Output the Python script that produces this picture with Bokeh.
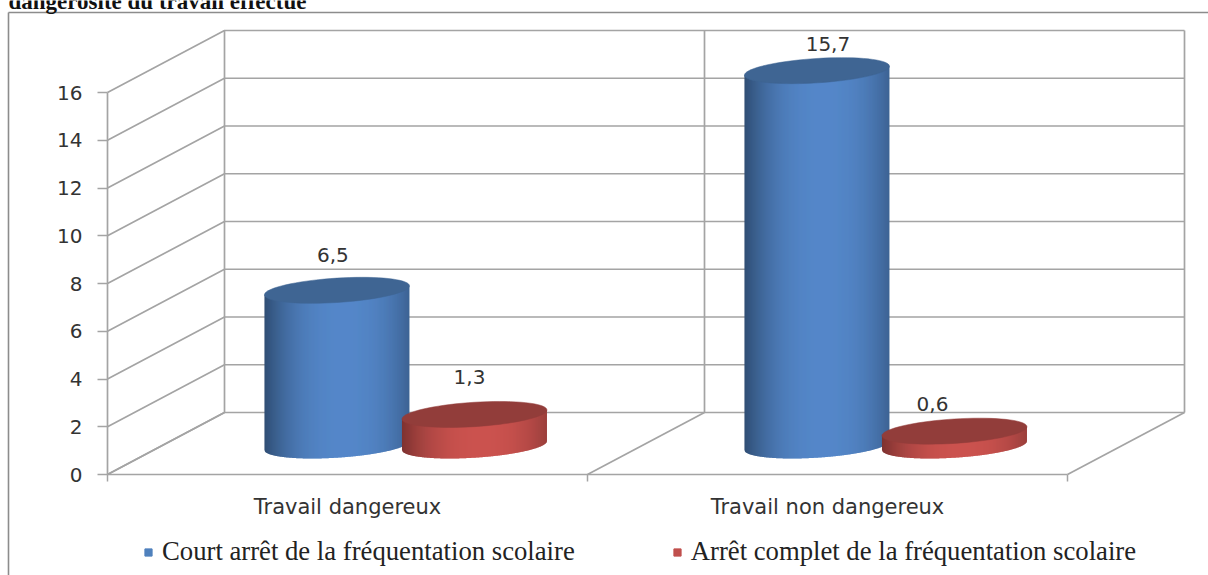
import math
from bokeh.plotting import figure
from bokeh.models import (Range1d, LinearAxis, FixedTicker, Label, Legend, LegendItem,
                          ColumnDataSource)
from bokeh.embed import file_html
from bokeh.resources import INLINE

# ---- data ----
categories = ["Travail dangereux", "Travail non dangereux"]
series_names = ["Court arrêt de la fréquentation scolaire",
                "Arrêt complet de la fréquentation scolaire"]
court_arret = [6.5, 15.7]
arret_complet = [1.3, 0.6]
value_ticks = [0, 2, 4, 6, 8, 10, 12, 14, 16]
title_text = "dangerosité du travail effectué"

# ---- styles ----
W, H = 1208, 575
PX_X = 480.0      # pixels per category
PX_Y = 23.875     # pixels per value unit
LEFT, BASE = 107, 474   # page position of the origin of the front plane
DEPTH_X, DEPTH_Y = 117, 62
GRID = "#a4a4a4"
TEXT = "#333333"
BLUE_SH = ((47, 77, 115), (84, 135, 201))   # edge, centre
RED_SH = ((125, 50, 48), (203, 83, 79))
BLUE_TOP, RED_TOP = "#3f6593", "#923d3a"
BLUE_KEY, RED_KEY = "#4f81bd", "#c0504d"

p = figure(width=W, height=H, output_backend="svg", toolbar_location=None,
           x_axis_type=None, y_axis_type=None,
           x_range=Range1d(-LEFT / PX_X, (W - LEFT) / PX_X),
           y_range=Range1d((BASE - H) / PX_Y, BASE / PX_Y),
           min_border=0, min_border_left=0, min_border_right=0,
           min_border_top=0, min_border_bottom=0,
           outline_line_color=None, background_fill_color="white",
           margin=(0, 0, 0, 0))
p.xgrid.visible = False
p.ygrid.visible = False

dx = DEPTH_X / PX_X
dy = DEPTH_Y / PX_Y
vmax = value_ticks[-1]
ncat = len(categories)

# outer frame of the chart
xs_f = [[(8 - LEFT) / PX_X] * 2, [(8 - LEFT) / PX_X, (W - LEFT) / PX_X]]
ys_f = [[(BASE - H) / PX_Y, (BASE - 12) / PX_Y], [(BASE - 12) / PX_Y] * 2]
p.multi_line(xs_f, ys_f, line_color="#8c8c8c", line_width=1.6)

# walls, floor
xs, ys = [], []
for v in value_ticks:
    xs.append([0, dx, ncat + dx]); ys.append([v, v + dy, v + dy])
for c in range(ncat + 1):
    xs.append([c, c + dx]); ys.append([0, dy])
    xs.append([c + dx, c + dx]); ys.append([dy, vmax + dy])
p.multi_line(xs, ys, line_color=GRID, line_width=1.7)

# axes
yaxis = LinearAxis(ticker=FixedTicker(ticks=value_ticks), fixed_location=0,
                   bounds=(0, vmax), axis_line_color=GRID, axis_line_width=1.7,
                   major_tick_line_color=GRID, major_tick_line_width=1.5,
                   major_tick_in=0, major_tick_out=10, minor_tick_line_color=None,
                   major_label_text_font="DejaVu Sans", major_label_text_font_size="20px",
                   major_label_text_color=TEXT, major_label_standoff=15)
p.add_layout(yaxis, "left")
xaxis = LinearAxis(ticker=FixedTicker(ticks=[c + 0.5 for c in range(ncat)],
                                      minor_ticks=list(range(ncat + 1))),
                   fixed_location=0, bounds=(0, ncat),
                   major_label_overrides={c + 0.5: n for c, n in enumerate(categories)},
                   axis_line_color=GRID, axis_line_width=1.7,
                   major_tick_line_color=None, minor_tick_line_color=GRID,
                   minor_tick_line_width=1.5, minor_tick_in=0, minor_tick_out=7,
                   major_label_text_font="DejaVu Sans", major_label_text_font_size="21px",
                   major_label_text_color=TEXT, major_label_standoff=13)
p.add_layout(xaxis, "below")

# cylinders
CX = [0.478, 0.7645]      # centre within a category per series
R = 72.5                  # half width, px
B = 12.2                  # half minor axis, px
SHEAR = 0.062             # right side rises
FLOOR = 29 / PX_Y         # base plane above the front edge
STRIP = 1.0


def lerp(a, b, t):
    return tuple(int(round(a[i] + (b[i] - a[i]) * t)) for i in range(3))


def cylinder(xc, v, shade, top):
    sx, sy, cols = [], [], []
    n = int(2 * R / STRIP)
    for i in range(n):
        a = -R + i * STRIP
        b = min(a + STRIP + 0.6, R)
        px = [a + (b - a) * k / 3 for k in range(4)]
        bottom = [FLOOR + (SHEAR * q - B * math.sqrt(max(0, 1 - (q / R) ** 2))) / PX_Y
                  for q in px]
        tp = [FLOOR + v + SHEAR * q / PX_Y for q in (b, a)]
        sx.append([xc + q / PX_X for q in px] + [xc + b / PX_X, xc + a / PX_X])
        sy.append(bottom + tp)
        u = (a + b) / 2 / R
        # brightest slightly right of the centre, dark towards both edges
        t = 1 - min(1, abs(u - 0.1) / 1.1) ** 2.4
        cols.append("#%02x%02x%02x" % lerp(shade[0], shade[1], t))
    p.patches(sx, sy, fill_color=cols, line_color=None)
    m = 72
    ex = [xc + R * math.cos(2 * math.pi * k / m) / PX_X for k in range(m)]
    ey = [FLOOR + v + (SHEAR * R * math.cos(2 * math.pi * k / m)
                       + B * math.sin(2 * math.pi * k / m)) / PX_Y for k in range(m)]
    p.patch(ex, ey, fill_color=top, line_color=top, line_width=0.5)


for c in range(ncat):
    cylinder(c + CX[0], court_arret[c], BLUE_SH, BLUE_TOP)
    cylinder(c + CX[1], arret_complet[c], RED_SH, RED_TOP)

# value labels
fmt = lambda v: ("%.1f" % v).replace(".", ",")
lab_x, lab_y, lab_t = [], [], []
for c in range(ncat):
    lab_x += [c + CX[0], c + CX[1]]
    lab_y += [FLOOR + court_arret[c], FLOOR + arret_complet[c]]
    lab_t += [fmt(court_arret[c]), fmt(arret_complet[c])]
src = ColumnDataSource(dict(x=lab_x, y=lab_y, t=lab_t,
                            ox=[-4, -5, 11, -22], oy=[-35, -37, -27, -27]))
p.text("x", "y", text="t", source=src, x_offset="ox", y_offset="oy",
       text_align="center", text_baseline="middle", text_color=TEXT,
       text_font={"value": "DejaVu Sans"}, text_font_size={"value": "20px"})

# legend
r1 = p.scatter([float("nan")], [float("nan")], marker="square", size=11,
               color=BLUE_KEY)
r2 = p.scatter([float("nan")], [float("nan")], marker="square", size=11,
               color=RED_KEY)
legend = Legend(items=[LegendItem(label=series_names[0], renderers=[r1]),
                       LegendItem(label=series_names[1], renderers=[r2])],
                orientation="horizontal", location=(139, 8),
                background_fill_alpha=0, border_line_color=None,
                label_text_font="Liberation Serif", label_text_font_size="26.7px",
                label_text_color="#222222", glyph_width=18, glyph_height=18,
                label_standoff=5, spacing=93, padding=0, margin=0)
p.add_layout(legend, "center")

# cropped caption above the chart
p.add_layout(Label(x=8, y=H - 1, x_units="screen", y_units="screen", text=title_text,
                   text_font="Liberation Serif", text_font_style="bold",
                   text_font_size="23px", text_color="#111111",
                   text_baseline="alphabetic"))

open("out.html", "w").write(file_html(p, INLINE))
